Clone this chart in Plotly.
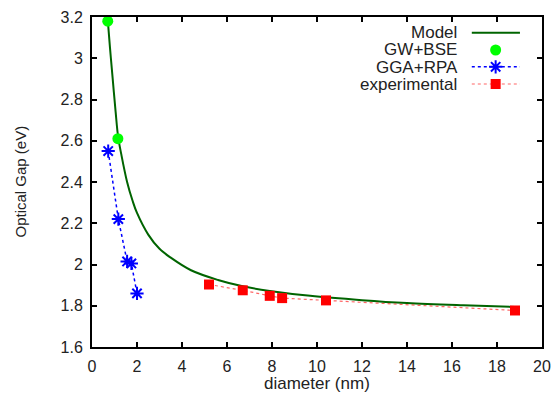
import plotly.graph_objects as go

# ---- data ----
model_d = [0.69, 0.8, 0.92, 1.05, 1.16, 1.3, 1.56, 1.8, 2.0, 2.5, 3.0, 3.5, 4.4, 5.6, 6.75, 7.9, 9.7, 12.0, 14.0, 16.5, 18.8]
model_e = [3.20, 3.05, 2.90, 2.74, 2.62, 2.535, 2.40, 2.31, 2.25, 2.145, 2.076, 2.033, 1.972, 1.925, 1.893, 1.872, 1.848, 1.827, 1.813, 1.802, 1.794]

gw_d = [0.7, 1.15]
gw_e = [3.18, 2.61]

gga_d = [0.72, 1.17, 1.56, 1.75, 2.0]
gga_e = [2.55, 2.22, 2.015, 2.005, 1.86]

exp_d = [5.2, 6.7, 7.9, 8.45, 10.4, 18.8]
exp_e = [1.903, 1.875, 1.848, 1.837, 1.826, 1.777]

legend_labels = ["Model", "GW+BSE", "GGA+RPA", "experimental"]

x_ticks = [0, 2, 4, 6, 8, 10, 12, 14, 16, 18, 20]
y_ticks = [1.6, 1.8, 2.0, 2.2, 2.4, 2.6, 2.8, 3.0, 3.2]
y_ticklabels = ["1.6", "1.8", "2", "2.2", "2.4", "2.6", "2.8", "3", "3.2"]

GREEN = "#006400"
LIME = "#00ff00"
BLUE = "#0000ff"
RED = "#ff0000"
RED_LINE = "rgba(255,0,0,0.6)"
FONT = "Liberation Sans, Arial, sans-serif"
TXT = "#222222"

fig = go.Figure()

fig.add_trace(go.Scatter(x=model_d, y=model_e, mode="lines",
                         line=dict(color=GREEN, width=2, shape="spline", smoothing=1.0),
                         showlegend=False))
fig.add_trace(go.Scatter(x=exp_d, y=exp_e, mode="lines+markers",
                         line=dict(color=RED_LINE, width=1.2, dash="dot"),
                         marker=dict(symbol="square", color=RED, size=10),
                         showlegend=False))
fig.add_trace(go.Scatter(x=gga_d, y=gga_e, mode="lines+markers",
                         line=dict(color=BLUE, width=1.5, dash="dot"),
                         marker=dict(symbol="asterisk-open", color=BLUE, size=11,
                                     line=dict(color=BLUE, width=2)),
                         showlegend=False))
fig.add_trace(go.Scatter(x=gw_d, y=gw_e, mode="markers",
                         marker=dict(symbol="circle", color=LIME, size=11),
                         showlegend=False, cliponaxis=False))

# ---- gnuplot-style key (text left, sample right) drawn on a hidden overlay axis ----
rows_y = [0.952, 0.900, 0.849, 0.797]
text_x = 0.816
line_x0, line_x1, mark_x = 0.844, 0.951, 0.897

# one right-aligned multi-line text block; line pitch comes from the base size (13.3 * 1.3 ≈ 17.3 px)
key_text = "<br>".join('<span style="font-size:17px">%s</span>' % lab for lab in legend_labels)
fig.add_annotation(x=text_x, y=sum(rows_y) / len(rows_y), xref="paper", yref="paper",
                   text=key_text, align="right", showarrow=False,
                   xanchor="right", yanchor="middle", borderpad=0,
                   font=dict(family=FONT, size=13.3, color=TXT))

fig.add_trace(go.Scatter(x=[line_x0, line_x1], y=[rows_y[0]] * 2, mode="lines",
                         line=dict(color=GREEN, width=2), xaxis="x2", yaxis="y2",
                         showlegend=False, hoverinfo="skip"))
fig.add_trace(go.Scatter(x=[mark_x], y=[rows_y[1]], mode="markers",
                         marker=dict(symbol="circle", color=LIME, size=11),
                         xaxis="x2", yaxis="y2", showlegend=False, hoverinfo="skip"))
fig.add_trace(go.Scatter(x=[line_x0, mark_x, line_x1], y=[rows_y[2]] * 3, mode="lines+markers",
                         line=dict(color=BLUE, width=1.5, dash="dot"),
                         marker=dict(symbol="asterisk-open", color=BLUE, size=11,
                                     line=dict(color=BLUE, width=2), opacity=[0, 1, 0]),
                         xaxis="x2", yaxis="y2", showlegend=False, hoverinfo="skip"))
fig.add_trace(go.Scatter(x=[line_x0, mark_x, line_x1], y=[rows_y[3]] * 3, mode="lines+markers",
                         line=dict(color=RED_LINE, width=1.2, dash="dot"),
                         marker=dict(symbol="square", color=RED, size=10, opacity=[0, 1, 0]),
                         xaxis="x2", yaxis="y2", showlegend=False, hoverinfo="skip"))

axis_common = dict(showgrid=False, zeroline=False, showline=True, linecolor="black",
                   linewidth=2, mirror="allticks", ticks="inside", ticklen=5,
                   tickwidth=1.5, tickcolor="black", automargin=False,
                   tickfont=dict(family=FONT, size=16, color=TXT))

fig.update_layout(
    width=554, height=407,
    margin=dict(l=92, r=12, t=17, b=60),
    paper_bgcolor="white", plot_bgcolor="white",
    showlegend=False,
    xaxis=dict(range=[0, 20], tickvals=x_ticks, ticktext=[str(t) for t in x_ticks],
               ticklabelstandoff=4, **axis_common),
    yaxis=dict(range=[1.6, 3.2], tickvals=y_ticks, ticktext=y_ticklabels,
               ticklabelstandoff=4, **axis_common),
    xaxis2=dict(range=[0, 1], overlaying="x", visible=False, fixedrange=True),
    yaxis2=dict(range=[0, 1], overlaying="y", visible=False, fixedrange=True),
)

# axis titles
fig.add_annotation(x=0.5, y=(347 - 383) / 330.0, xref="paper", yref="paper",
                   text="diameter (nm)", showarrow=False,
                   xanchor="center", yanchor="middle",
                   font=dict(family=FONT, size=17, color=TXT))
fig.add_annotation(x=(19.5 - 92) / 450.0, y=0.5, xref="paper", yref="paper",
                   text="Optical Gap (eV)", textangle=-90,
                   showarrow=False, xanchor="center", yanchor="middle",
                   font=dict(family=FONT, size=15, color=TXT))

fig.write_html("out.html", config={"responsive": False, "displayModeBar": False},
               post_script="document.body.style.margin='0';document.body.style.padding='0';")
